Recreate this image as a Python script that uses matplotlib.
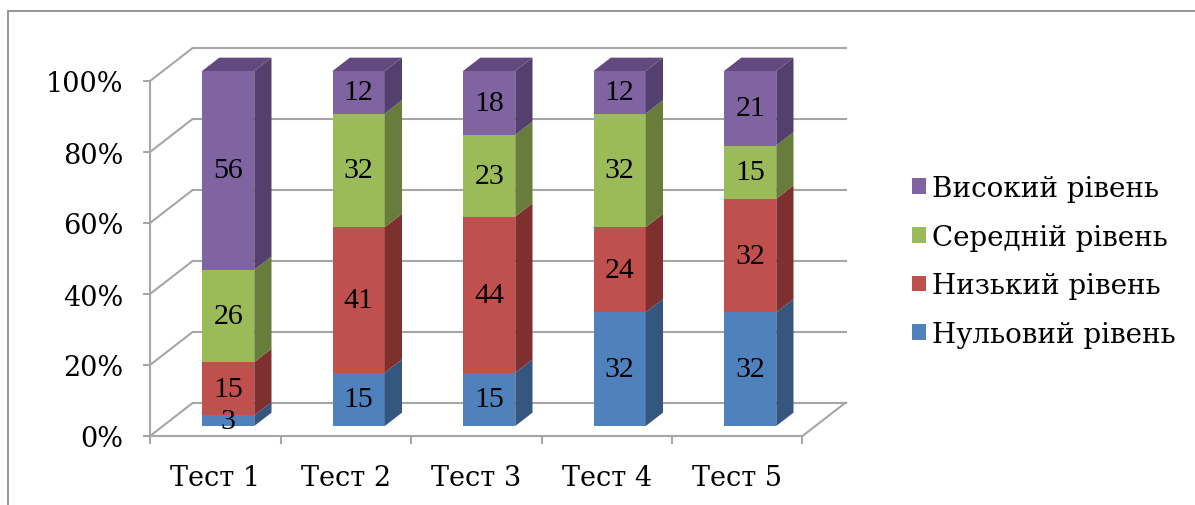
import matplotlib.pyplot as plt
from matplotlib.patches import Polygon, Rectangle, Patch

# Data (percent per level for each test)
tests = ["Тест 1", "Тест 2", "Тест 3", "Тест 4", "Тест 5"]
levels = ["Нульовий рівень", "Низький рівень", "Середній рівень", "Високий рівень"]
zero_level = [3, 15, 15, 32, 32]
low_level = [15, 41, 44, 24, 32]
mid_level = [26, 32, 23, 32, 15]
high_level = [56, 12, 18, 12, 21]
series = [zero_level, low_level, mid_level, high_level]
yticks = [0, 20, 40, 60, 80, 100]
ytick_labels = ["0%", "20%", "40%", "60%", "80%", "100%"]

front_colors = ["#4F81BD", "#C0504D", "#9BBB59", "#8064A2"]
side_colors = ["#34567F", "#7E302E", "#687D3B", "#54406E"]
top_colors = ["#3E6595", "#943B39", "#7A9446", "#62497F"]
grid_color = "#A6A6A6"

# pseudo 3d geometry (in data units: categories / percent)
depth_x, depth_y = 0.33, 9.4       # front plane -> back wall
bar_off = 0.3                      # bar front face position in depth
bar_depth = 0.4                    # bar depth as part of full depth
bar_width = 0.4

W, H = 1195, 506
fig = plt.figure(figsize=(W / 100, H / 100), dpi=100)
ax = fig.add_axes([150 / W, (H - 437) / H, 652.5 / W, 355 / H])
ax.set_xlim(-0.5, len(tests) - 0.5)
ax.set_ylim(0, 100)
ax.patch.set_visible(False)

# outer chart border
fig.patches.append(Rectangle((8 / W, -0.2), 1.2, 1.2 - 12 / H,
                             transform=fig.transFigure, fill=False,
                             edgecolor="#8C8C8C", linewidth=1.3))

# walls and gridlines
x0, x1 = -0.5, len(tests) - 0.5
for t in yticks:
    ax.plot([x0, x0 + depth_x], [t, t + depth_y], color=grid_color, lw=1.5,
            clip_on=False, zorder=1, solid_capstyle="butt")
    ax.plot([x0 + depth_x, x1 + depth_x], [t + depth_y, t + depth_y],
            color=grid_color, lw=1.5, clip_on=False, zorder=1)
ax.plot([x1, x1 + depth_x], [0, depth_y], color=grid_color, lw=1.5,
        clip_on=False, zorder=1)

# bars
ox, oy = bar_off * depth_x, bar_off * depth_y
sx, sy = bar_depth * depth_x, bar_depth * depth_y
bottoms = [0] * len(tests)
for k, vals in enumerate(series):
    xs = [i + ox for i in range(len(tests))]
    bot = [b + oy for b in bottoms]
    ax.bar(xs, vals, bottom=bot, width=bar_width, color=front_colors[k],
           linewidth=0, zorder=3, clip_on=False)
    for i, v in enumerate(vals):
        xr = xs[i] + bar_width / 2
        xl = xs[i] - bar_width / 2
        b, t = bot[i], bot[i] + v
        ax.add_patch(Polygon([(xr, b), (xr + sx, b + sy), (xr + sx, t + sy), (xr, t)],
                             closed=True, facecolor=side_colors[k], linewidth=0,
                             zorder=3, clip_on=False))
        if k == len(series) - 1:
            ax.add_patch(Polygon([(xl, t), (xr, t), (xr + sx, t + sy), (xl + sx, t + sy)],
                                 closed=True, facecolor=top_colors[k], linewidth=0,
                                 zorder=3, clip_on=False))
        ax.text(xs[i], b + v / 2, str(v), ha="center", va="center",
                fontsize=21.5, family="Liberation Serif", color="black", zorder=5)
    bottoms = [bottoms[i] + vals[i] for i in range(len(tests))]

# axes styling
for s in ["top", "right"]:
    ax.spines[s].set_visible(False)
for s in ["left", "bottom"]:
    ax.spines[s].set_color(grid_color)
    ax.spines[s].set_linewidth(1.5)
    ax.spines[s].set_zorder(2)
ax.set_yticks(yticks)
ax.set_yticklabels(ytick_labels, fontsize=19.5, family="DejaVu Serif")
ax.tick_params(axis="y", length=5, width=1.5, color=grid_color, pad=14)
ax.set_xticks(range(len(tests)))
ax.set_xticklabels(tests, fontsize=19.5, family="DejaVu Serif")
ax.tick_params(axis="x", length=0, pad=20)
ax.set_xticks([i - 0.5 for i in range(len(tests) + 1)], minor=True)
ax.tick_params(axis="x", which="minor", length=6, width=1.5, color=grid_color)

# legend
handles = [Patch(facecolor=front_colors[k], label=levels[k]) for k in range(len(levels))][::-1]
fig.legend(handles=handles, loc="center left", bbox_to_anchor=(912 / W, (H - 262.5) / H),
           frameon=False, borderpad=0, borderaxespad=0, handlelength=0.5,
           handleheight=0.5, handletextpad=0.22, labelspacing=0.78,
           prop={"family": "DejaVu Serif", "size": 20})

fig.savefig("out.png", dpi=100)
